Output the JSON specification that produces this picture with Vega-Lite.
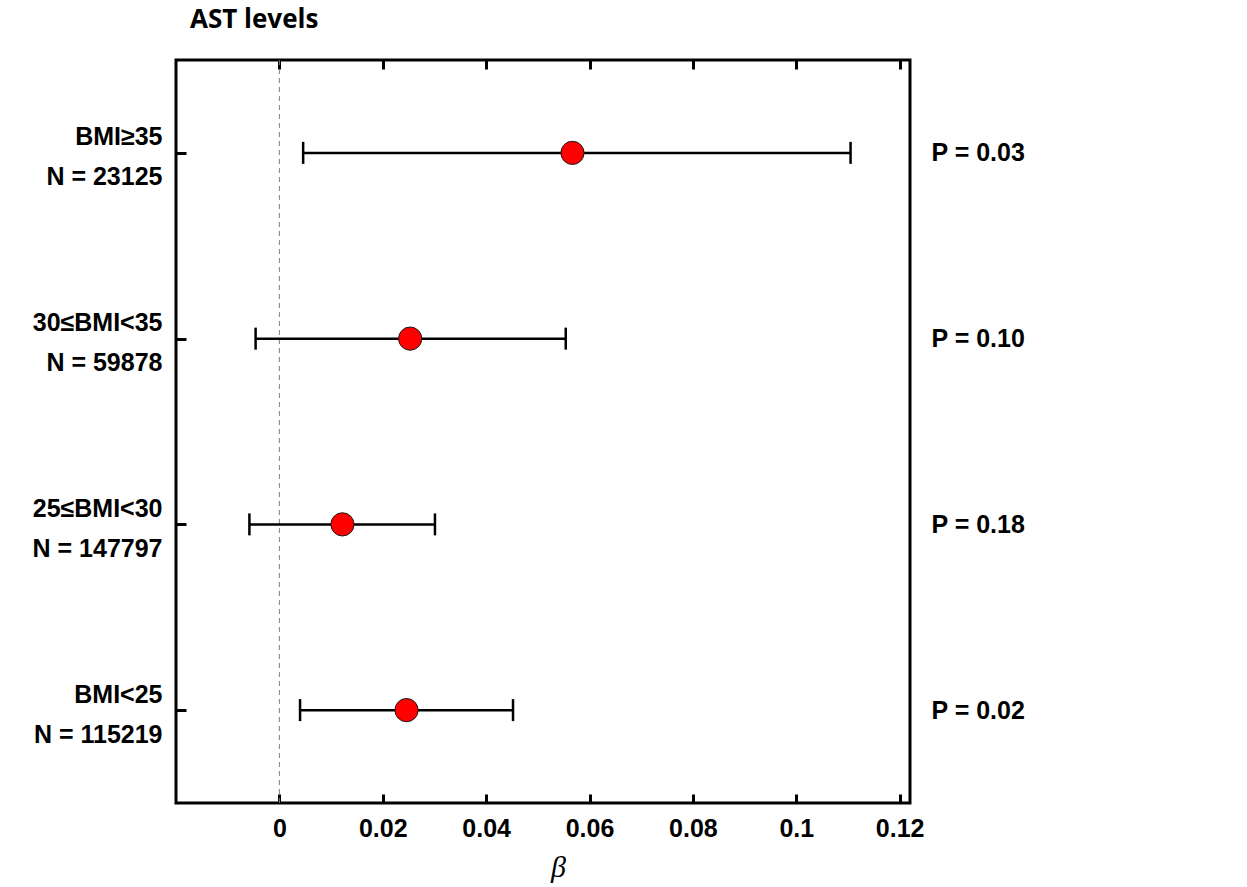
{
  "$schema": "https://vega.github.io/schema/vega-lite/v6.json",
  "width": 734,
  "height": 743,
  "autosize": {"type": "none"},
  "padding": {"left": 176, "top": 60, "right": 337, "bottom": 84},
  "background": "white",
  "title": {
    "text": "AST levels",
    "anchor": "start",
    "frame": "group",
    "dx": 14,
    "offset": 26,
    "font": "Open Sans",
    "fontSize": 26,
    "fontWeight": "bold",
    "color": "black"
  },
  "config": {
    "view": {"stroke": "black", "strokeWidth": 3},
    "axis": {
      "grid": false,
      "domain": false,
      "tickColor": "black",
      "tickWidth": 3,
      "labelFont": "Liberation Sans",
      "labelFontSize": 25,
      "labelFontWeight": "bold",
      "labelColor": "black"
    }
  },
  "data": {
    "values": [
      {"label": "BMI≥35|N = 23125", "p": "0.03", "beta": 0.0567, "lower": 0.0046, "upper": 0.1105},
      {"label": "30≤BMI<35|N = 59878", "p": "0.10", "beta": 0.0253, "lower": -0.0046, "upper": 0.0554},
      {"label": "25≤BMI<30|N = 147797", "p": "0.18", "beta": 0.0122, "lower": -0.0058, "upper": 0.0301},
      {"label": "BMI<25|N = 115219", "p": "0.02", "beta": 0.0246, "lower": 0.004, "upper": 0.0452}
    ]
  },
  "layer": [
    {
      "layer": [
        {
          "data": {"values": [{"z": 0}]},
          "mark": {"type": "rule", "color": "#808080", "strokeWidth": 1, "strokeDash": [5, 4]},
          "encoding": {
            "x": {
              "field": "z",
              "type": "quantitative",
              "scale": {"domain": [-0.02, 0.122], "nice": false, "zero": false},
              "axis": {"orient": "top", "labels": false, "title": null, "tickSize": -9, "values": [0, 0.02, 0.04, 0.06, 0.08, 0.1, 0.12]}
            }
          }
        },
        {
          "mark": {"type": "rule", "color": "black", "strokeWidth": 2.5},
          "encoding": {
            "y": {
              "field": "label",
              "type": "nominal",
              "sort": null,
              "scale": {"type": "point", "padding": 0.5, "domain": ["BMI≥35|N = 23125", "30≤BMI<35|N = 59878", "25≤BMI<30|N = 147797", "BMI<25|N = 115219"]},
              "axis": {
                "orient": "left",
                "title": null,
                "tickSize": -10,
                "labelPadding": 24,
                "labelExpr": "split(datum.value, '|')",
                "labelLineHeight": 40,
                "labelAlign": "right",
                "labelBaseline": "middle",
                "labelOffset": -16
              }
            },
            "x": {
              "field": "lower",
              "type": "quantitative",
              "axis": {
                "orient": "bottom",
                "title": "β",
                "tickSize": -9,
                "labelPadding": 22,
                "values": [0, 0.02, 0.04, 0.06, 0.08, 0.1, 0.12],
                "format": "~g",
                "titleFont": "Liberation Serif",
                "titleFontStyle": "italic",
                "titleFontWeight": "normal",
                "titleFontSize": 30,
                "titleColor": "black",
                "titlePadding": 11,
                "titleX": 382
              }
            },
            "x2": {"field": "upper"}
          }
        },
        {
          "mark": {"type": "tick", "color": "black", "opacity": 1, "thickness": 2.5, "size": 22, "orient": "vertical"},
          "encoding": {
            "y": {"field": "label", "type": "nominal", "sort": null},
            "x": {"field": "lower", "type": "quantitative", "axis": null}
          }
        },
        {
          "mark": {"type": "tick", "color": "black", "opacity": 1, "thickness": 2.5, "size": 22, "orient": "vertical"},
          "encoding": {
            "y": {"field": "label", "type": "nominal", "sort": null},
            "x": {"field": "upper", "type": "quantitative", "axis": null}
          }
        },
        {
          "mark": {"type": "point", "filled": true, "fill": "#ff0000", "stroke": "#1a1a1a", "strokeWidth": 1, "size": 540, "opacity": 1},
          "encoding": {
            "y": {"field": "label", "type": "nominal", "sort": null},
            "x": {"field": "beta", "type": "quantitative", "axis": null}
          }
        }
      ],
      "resolve": {"axis": {"x": "independent"}}
    },
    {
      "mark": {"type": "point", "opacity": 0},
      "encoding": {
        "y": {
          "field": "p",
          "type": "nominal",
          "sort": null,
          "scale": {"type": "point", "padding": 0.5, "domain": ["0.03", "0.10", "0.18", "0.02"]},
          "axis": {
            "orient": "right",
            "title": null,
            "ticks": false,
            "labelPadding": 21,
            "labelExpr": "'P = ' + datum.value",
            "labelAlign": "left",
            "labelBaseline": "middle"
          }
        }
      }
    }
  ],
  "resolve": {"scale": {"y": "independent"}, "axis": {"y": "independent"}}
}
